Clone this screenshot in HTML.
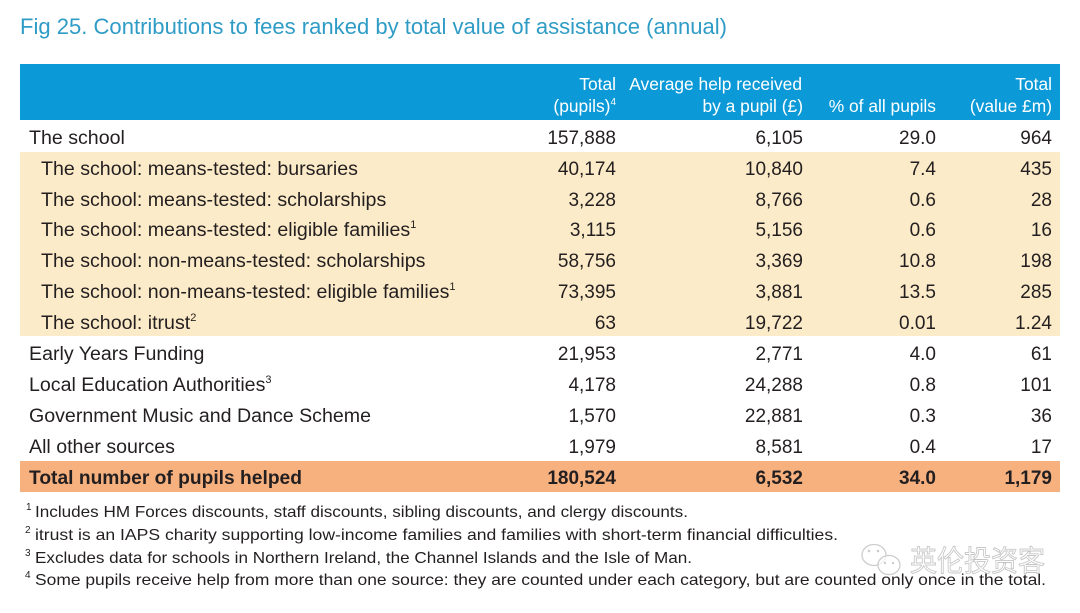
<!DOCTYPE html>
<html>
<head>
<meta charset="utf-8">
<style>
  html, body { margin:0; padding:0; background:#ffffff; }
  svg { display:block; }
  text { font-family: "Liberation Sans", "Noto Sans CJK SC", sans-serif; }
</style>
</head>
<body>
<svg width="1080" height="613" viewBox="0 0 1080 613" xmlns="http://www.w3.org/2000/svg">
  <rect x="0" y="0" width="1080" height="613" fill="#ffffff"/>

  <!-- Title -->
  <text x="20" y="34" font-size="22" fill="#2f9cc6" textLength="707" lengthAdjust="spacingAndGlyphs">Fig 25. Contributions to fees ranked by total value of assistance (annual)</text>

  <!-- Header bar -->
  <rect x="20" y="64" width="1040" height="56" fill="#0b9ad7"/>
  <g font-size="17.4" fill="#ffffff" text-anchor="end">
    <text x="616" y="90">Total</text>
    <text x="616" y="112">(pupils)<tspan font-size="10" dy="-7">4</tspan></text>
    <text x="802" y="90">Average help received</text>
    <text x="803" y="112">by a pupil (£)</text>
    <text x="936" y="112">% of all pupils</text>
    <text x="1052" y="90">Total</text>
    <text x="1052" y="112">(value £m)</text>
  </g>

  <!-- Beige band -->
  <rect x="20" y="152" width="1040" height="184" fill="#fcebc8"/>
  <!-- Orange total band -->
  <rect x="20" y="461" width="1040" height="31" fill="#f7b17f"/>

  <g font-size="19.6" fill="#231f20">
    <!-- Labels -->
    <text x="29" y="144">The school</text>
    <text x="41" y="175">The school: means-tested: bursaries</text>
    <text x="41" y="206">The school: means-tested: scholarships</text>
    <text x="41" y="236">The school: means-tested: eligible families<tspan font-size="11" dy="-8">1</tspan></text>
    <text x="41" y="267">The school: non-means-tested: scholarships</text>
    <text x="41" y="298">The school: non-means-tested: eligible families<tspan font-size="11" dy="-8">1</tspan></text>
    <text x="41" y="329">The school: itrust<tspan font-size="11" dy="-8">2</tspan></text>
    <text x="29" y="360">Early Years Funding</text>
    <text x="29" y="391">Local Education Authorities<tspan font-size="11" dy="-8">3</tspan></text>
    <text x="29" y="422">Government Music and Dance Scheme</text>
    <text x="29" y="453">All other sources</text>
    <text x="29" y="484" font-weight="bold" textLength="273" lengthAdjust="spacingAndGlyphs">Total number of pupils helped</text>
  </g>

  <!-- Column 1: Total pupils -->
  <g font-size="19" fill="#231f20" text-anchor="end">
    <text x="616" y="144">157,888</text>
    <text x="616" y="175">40,174</text>
    <text x="616" y="206">3,228</text>
    <text x="616" y="236">3,115</text>
    <text x="616" y="267">58,756</text>
    <text x="616" y="298">73,395</text>
    <text x="616" y="329">63</text>
    <text x="616" y="360">21,953</text>
    <text x="616" y="391">4,178</text>
    <text x="616" y="422">1,570</text>
    <text x="616" y="453">1,979</text>
    <text x="616" y="484" font-weight="bold">180,524</text>
  </g>

  <!-- Column 2: Average help -->
  <g font-size="19" fill="#231f20" text-anchor="end">
    <text x="803" y="144">6,105</text>
    <text x="803" y="175">10,840</text>
    <text x="803" y="206">8,766</text>
    <text x="803" y="236">5,156</text>
    <text x="803" y="267">3,369</text>
    <text x="803" y="298">3,881</text>
    <text x="803" y="329">19,722</text>
    <text x="803" y="360">2,771</text>
    <text x="803" y="391">24,288</text>
    <text x="803" y="422">22,881</text>
    <text x="803" y="453">8,581</text>
    <text x="803" y="484" font-weight="bold">6,532</text>
  </g>

  <!-- Column 3: % of all pupils -->
  <g font-size="19" fill="#231f20" text-anchor="end">
    <text x="936" y="144">29.0</text>
    <text x="936" y="175">7.4</text>
    <text x="936" y="206">0.6</text>
    <text x="936" y="236">0.6</text>
    <text x="936" y="267">10.8</text>
    <text x="936" y="298">13.5</text>
    <text x="936" y="329">0.01</text>
    <text x="936" y="360">4.0</text>
    <text x="936" y="391">0.8</text>
    <text x="936" y="422">0.3</text>
    <text x="936" y="453">0.4</text>
    <text x="936" y="484" font-weight="bold">34.0</text>
  </g>

  <!-- Column 4: Total value -->
  <g font-size="19" fill="#231f20" text-anchor="end">
    <text x="1052" y="144">964</text>
    <text x="1052" y="175">435</text>
    <text x="1052" y="206">28</text>
    <text x="1052" y="236">16</text>
    <text x="1052" y="267">198</text>
    <text x="1052" y="298">285</text>
    <text x="1052" y="329">1.24</text>
    <text x="1052" y="360">61</text>
    <text x="1052" y="391">101</text>
    <text x="1052" y="422">36</text>
    <text x="1052" y="453">17</text>
    <text x="1052" y="484" font-weight="bold">1,179</text>
  </g>

  <!-- Footnotes -->
  <g fill="#231f20">
    <text x="26" y="510" font-size="10">1</text>
    <text x="35" y="517" font-size="16" textLength="653" lengthAdjust="spacingAndGlyphs">Includes HM Forces discounts, staff discounts, sibling discounts, and clergy discounts.</text>
    <text x="25" y="533" font-size="10">2</text>
    <text x="35" y="540" font-size="16" textLength="803" lengthAdjust="spacingAndGlyphs">itrust is an IAPS charity supporting low-income families and families with short-term financial difficulties.</text>
    <text x="25" y="556" font-size="10">3</text>
    <text x="35" y="563" font-size="16" textLength="657" lengthAdjust="spacingAndGlyphs">Excludes data for schools in Northern Ireland, the Channel Islands and the Isle of Man.</text>
    <text x="25" y="578" font-size="10">4</text>
    <text x="35" y="585" font-size="16" textLength="1011" lengthAdjust="spacingAndGlyphs">Some pupils receive help from more than one source: they are counted under each category, but are counted only once in the total.</text>
  </g>

  <!-- Watermark -->
  <g opacity="0.85">
    <ellipse cx="874" cy="555" rx="12" ry="10.5" fill="#ffffff" fill-opacity="0.6" stroke="#c4c4c4" stroke-width="1.3"/>
    <circle cx="869" cy="551" r="1.3" fill="#c4c4c4"/>
    <circle cx="878" cy="551" r="1.3" fill="#c4c4c4"/>
    <ellipse cx="889" cy="565" rx="11" ry="9.5" fill="#ffffff" fill-opacity="0.7" stroke="#c4c4c4" stroke-width="1.3"/>
    <circle cx="885" cy="563" r="1.2" fill="#c4c4c4"/>
    <circle cx="893" cy="563" r="1.2" fill="#c4c4c4"/>
    <text x="910" y="571" font-size="29" font-family="'Noto Sans CJK SC', 'WenQuanYi Zen Hei', sans-serif" fill="#ffffff" fill-opacity="0.55" stroke="#bdbdbd" stroke-width="0.9" textLength="135" lengthAdjust="spacingAndGlyphs">英伦投资客</text>
  </g>
</svg>
</body>
</html>
